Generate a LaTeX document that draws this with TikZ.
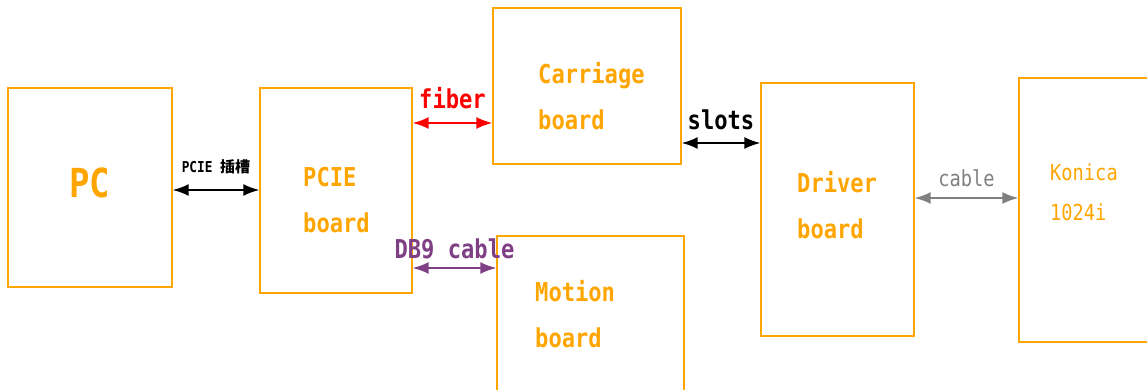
\documentclass[tikz,border=0pt]{standalone}
\usepackage{fontspec}
\newfontfamily\boxfont{DejaVu Sans Mono}[FakeStretch=0.85]
\newfontfamily\cjkfont{Noto Sans CJK SC}
\usetikzlibrary{arrows.meta}
\definecolor{boxorange}{HTML}{FFA500}
\definecolor{dbpurple}{HTML}{7E3F85}
\begin{document}
\begin{tikzpicture}[x=1pt,y=-1pt,>={Latex[length=16pt,width=12pt]},
 board/.style={draw=boxorange,line width=1.2pt,inner sep=0pt},
 btext/.style={text=boxorange,font=\boxfont\bfseries\fontsize{26}{46}\selectfont,align=left,anchor=west,inner sep=0pt},
 link/.style={line width=2pt,<->}]
\useasboundingbox (0,0) rectangle (1147,390);
\node[board,minimum width=164pt,minimum height=199pt] (pc) at (90,187.5) {};
\node[board,minimum width=152pt,minimum height=205pt] (pcie) at (336,190.5) {};
\node[board,minimum width=188pt,minimum height=156pt] (carriage) at (587,86) {};
\node[board,minimum width=187pt,minimum height=200pt] (motion) at (590.5,336) {};
\node[board,minimum width=153pt,minimum height=253pt] (driver) at (837.5,209.5) {};
\node[board,minimum width=141pt,minimum height=264pt] (konica) at (1089.5,210) {};
% board texts
\node[text=boxorange,font=\boxfont\bfseries\fontsize{40}{40}\selectfont,inner sep=0pt] (pctext) at (90,183) {PC};
\node[btext] (pcietext) at (303,200) {PCIE\\board};
\node[btext] (carriagetext) at (538,96) {Carriage\\board};
\node[btext] (motiontext) at (535,314) {Motion\\board};
\node[btext] (drivertext) at (797,205) {Driver\\board};
\node[btext,font=\boxfont\fontsize{22}{40}\selectfont] (konicatext) at (1050,192) {Konica\\1024i};
% connectors
\draw[link] ([yshift=-2.5pt]pc.east) -- node[above=15pt,inner sep=0pt,font=\boxfont\bfseries\fontsize{15}{15}\selectfont] (slotlabel) {PCIE {\cjkfont\bfseries 插槽}} ([yshift=-2.5pt]pc.east -| pcie.west);
\draw[link,red] ([yshift=67.5pt]pcie.east) -- node[above=13pt,inner sep=0pt,text=red,font=\boxfont\bfseries\fontsize{26}{26}\selectfont] (fiberlabel) {fiber} ([yshift=67.5pt]pcie.east -| carriage.west);
\draw[link,dbpurple] ([yshift=-77.5pt]pcie.east) -- node[above=8pt,inner sep=0pt,text=dbpurple,font=\boxfont\bfseries\fontsize{26}{26}\selectfont] (dblabel) {DB9 cable} ([yshift=-77.5pt]pcie.east -| motion.west);
\draw[link,black] ([yshift=-57pt]carriage.east) -- node[above=12pt,inner sep=0pt,font=\boxfont\bfseries\fontsize{26}{26}\selectfont] (slotslabel) {slots} ([yshift=-57pt]carriage.east -| driver.west);
\draw[link,gray] ([yshift=11.5pt]driver.east) -- node[above=10.5pt,inner sep=0pt,text=gray,font=\boxfont\fontsize{22}{22}\selectfont] (cablelabel) {cable} ([yshift=11.5pt]driver.east -| konica.west);
\end{tikzpicture}
\end{document}
